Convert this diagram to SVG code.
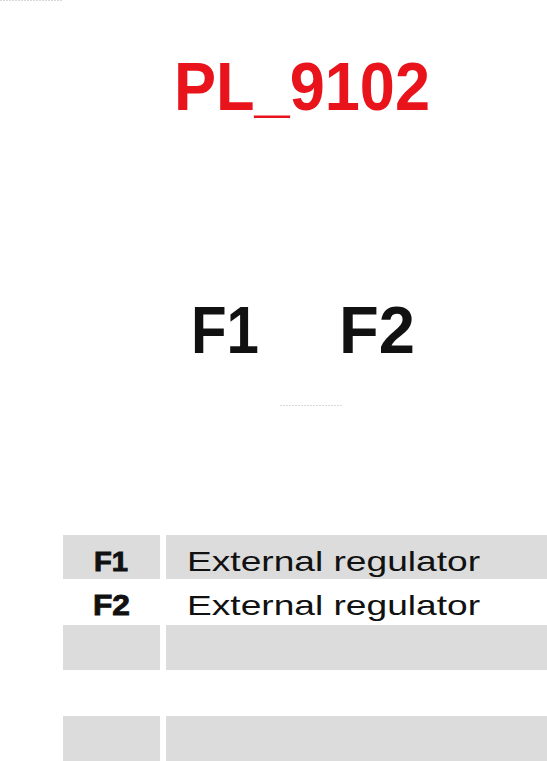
<svg xmlns="http://www.w3.org/2000/svg" width="547" height="761" viewBox="0 0 547 761">
<style>
.cell{fill:#dcdcdc}
.lbl{font-family:"Liberation Sans",Arial,sans-serif;font-weight:bold;fill:#111}
.tl{stroke:#111;stroke-width:0.9}
.desc{font-family:"Liberation Sans",Arial,sans-serif;fill:#111}
.faint{stroke:#d8d8d8;stroke-width:1;stroke-dasharray:2 1;fill:none}
</style>
<rect width="547" height="761" fill="#fff"/>
<line class="faint" x1="0" y1="0.5" x2="63" y2="0.5"/>
<line class="faint" x1="280" y1="405.5" x2="343" y2="405.5"/>
<g id="title">
<text x="174" y="110" font-family="'Liberation Sans',Arial,sans-serif" font-weight="bold" font-size="68" fill="#e8131b" textLength="256" lengthAdjust="spacingAndGlyphs">PL_9102</text>
</g>
<g id="pins">
<text x="191" y="353" class="lbl" font-size="66" fill="#1a1a1a" textLength="68" lengthAdjust="spacingAndGlyphs">F1</text>
<text x="339" y="353" class="lbl" font-size="66" fill="#1a1a1a" textLength="76" lengthAdjust="spacingAndGlyphs">F2</text>
</g>
<g id="table">
<g id="row1">
<rect class="cell" x="63" y="535" width="97" height="44"/>
<rect class="cell" x="166" y="535" width="381" height="44"/>
<text x="94" y="571" class="lbl tl" font-size="27" textLength="34" lengthAdjust="spacingAndGlyphs">F1</text>
<text x="187" y="571" class="desc" font-size="28" textLength="293" lengthAdjust="spacingAndGlyphs">External regulator</text>
</g>
<g id="row2">
<text x="93" y="615" class="lbl tl" font-size="29" textLength="37" lengthAdjust="spacingAndGlyphs">F2</text>
<text x="187" y="615" class="desc" font-size="28" textLength="293" lengthAdjust="spacingAndGlyphs">External regulator</text>
</g>
<g id="row3">
<rect class="cell" x="63" y="625" width="97" height="45"/>
<rect class="cell" x="166" y="625" width="381" height="45"/>
</g>
<g id="row5">
<rect class="cell" x="63" y="716" width="97" height="45"/>
<rect class="cell" x="166" y="716" width="381" height="45"/>
</g>
</g>
</svg>
